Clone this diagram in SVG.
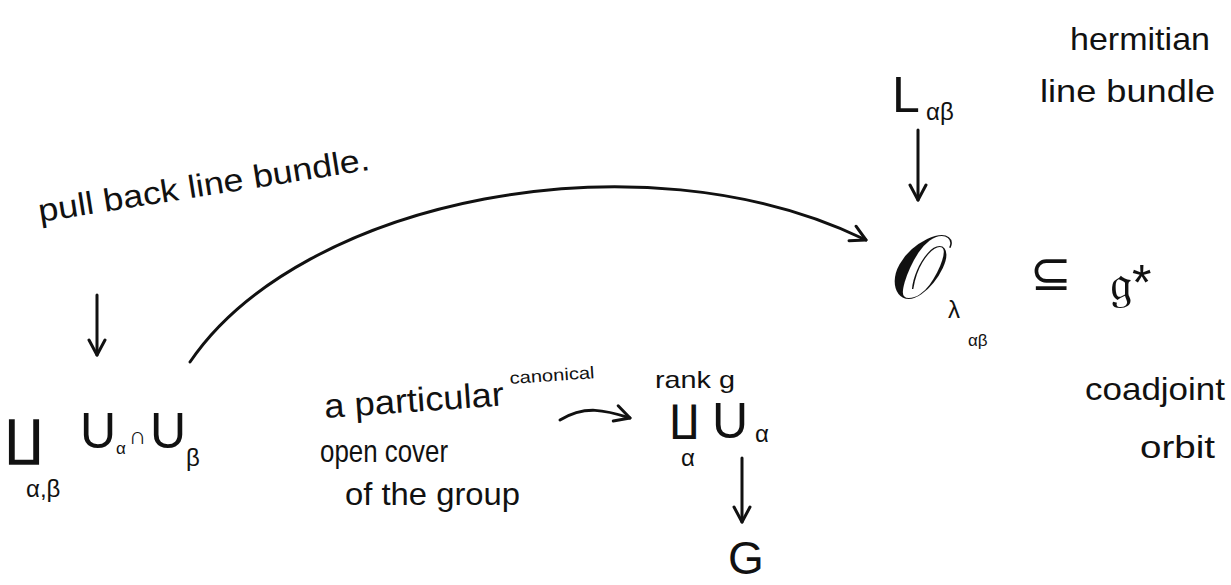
<svg xmlns="http://www.w3.org/2000/svg" width="1231" height="585" viewBox="0 0 1231 585">
<style>
.t{font-family:"Liberation Sans","DejaVu Sans",sans-serif;fill:#111}
.h{font-size:32px}
.m{font-size:50px}
.s{font-size:24px}
.xs{font-size:17px}
.c{stroke:#111;stroke-width:3;fill:none;stroke-linecap:round;stroke-linejoin:round}
</style>
<defs>
<marker id="ah" viewBox="0 0 20 20" refX="17" refY="10" markerWidth="20" markerHeight="20" markerUnits="userSpaceOnUse" orient="auto">
<path d="M2,2 L17,10 L2,18" fill="none" stroke="#111" stroke-width="3" stroke-linecap="round" stroke-linejoin="round"/>
</marker>
</defs>
<rect width="1231" height="585" fill="#fff"/>

<g id="hermitian-label">
<text class="t h" x="1070" y="50" textLength="140" lengthAdjust="spacingAndGlyphs">hermitian</text>
<text class="t h" x="1040" y="102" textLength="175" lengthAdjust="spacingAndGlyphs">line bundle</text>
</g>

<g id="L-node">
<text class="t m" x="892" y="112">L</text>
<text class="t s" x="926" y="120">αβ</text>
</g>

<g id="orbit-node">
<text class="t" x="890" y="298" style="font-size:90px">𝒪</text>
<text class="t s" x="948" y="318">λ</text>
<text class="t xs" x="968" y="346">αβ</text>
<text class="t m" x="1030" y="290">⊆</text>
<text class="t m" x="1110" y="300">𝔤*</text>
</g>

<g id="coadjoint-label">
<text class="t h" x="1085" y="400" textLength="140" lengthAdjust="spacingAndGlyphs">coadjoint</text>
<text class="t h" x="1140" y="458" textLength="75" lengthAdjust="spacingAndGlyphs">orbit</text>
</g>

<g id="pullback-label">
<text class="t h" x="40" y="222" transform="rotate(-9 40 222)" textLength="335" lengthAdjust="spacingAndGlyphs">pull back line bundle.</text>
</g>

<g id="intersection-node">
<text class="t m" x="5" y="455">∐</text>
<text class="t s" x="26" y="497">α,β</text>
<text class="t m" x="80" y="448">U</text>
<text class="t xs" x="116" y="454">α</text>
<text class="t s" x="129" y="444">∩</text>
<text class="t m" x="150" y="448">U</text>
<text class="t s" x="186" y="466">β</text>
</g>

<g id="cover-label">
<text class="t" x="325" y="418" style="font-size:34px" transform="rotate(-4 325 418)" textLength="180" lengthAdjust="spacingAndGlyphs">a particular</text>
<text class="t xs" x="510" y="384" transform="rotate(-4 510 384)" textLength="85" lengthAdjust="spacingAndGlyphs">canonical</text>
<text class="t h" x="320" y="462" textLength="128" lengthAdjust="spacingAndGlyphs">open cover</text>
<text class="t h" x="345" y="505" textLength="175" lengthAdjust="spacingAndGlyphs">of the group</text>
</g>

<g id="cover-node">
<text class="t s" x="655" y="388" textLength="80" lengthAdjust="spacingAndGlyphs">rank g</text>
<text class="t" x="670" y="432" style="font-size:38px">∐</text>
<text class="t s" x="681" y="466">α</text>
<text class="t m" x="712" y="438">U</text>
<text class="t s" x="755" y="442">α</text>
</g>

<g id="G-node">
<text class="t" x="728" y="574" style="font-size:46px">G</text>
</g>

<g id="connectors">
<path class="c" d="M918,130 L918,200" marker-end="url(#ah)"/>
<path class="c" d="M97,295 L97,355" marker-end="url(#ah)"/>
<path class="c" d="M190,362 C300,200 640,130 866,240" marker-end="url(#ah)"/>
<path class="c" d="M560,420 C585,405 605,410 630,418" marker-end="url(#ah)"/>
<path class="c" d="M742,458 L742,522" marker-end="url(#ah)"/>
</g>
</svg>
